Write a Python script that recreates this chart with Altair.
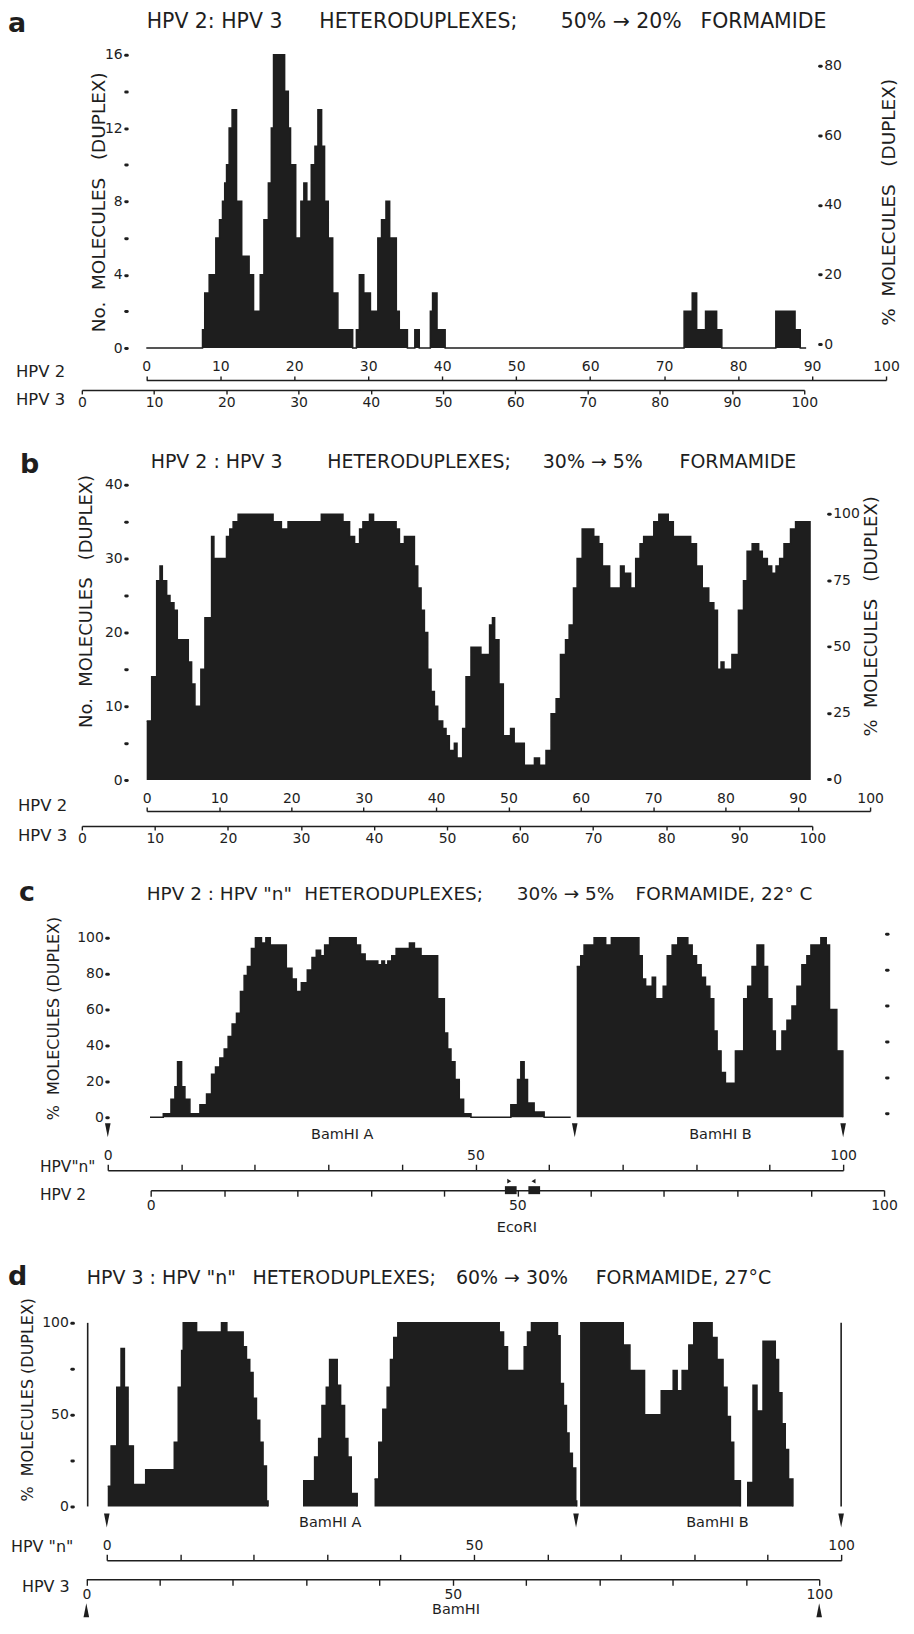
import altair as alt
import pandas as pd

FONT = "DejaVu Sans"
INK = "#1e1e1e"
W = 898
MARGIN = 8

# ---------------- data ----------------
hpv_ticks = list(range(0, 101, 10))

# panel a : No. molecules (duplex) vs HPV 2 map position
a_x = [0, 7.6, 7.9, 8.5, 9.4, 9.9, 10.3, 10.6, 10.85, 11.2, 11.6, 12.2, 12.9, 13.9, 14.5,
       15.4, 15.9, 16.5, 16.9, 17.2, 18.7, 19.2, 19.5, 20.2, 20.9, 21.3, 21.7, 22.3, 22.8,
       23.2, 23.7, 24.1, 24.6, 25.2, 25.9, 27.9, 28.4, 28.8, 29.4, 30.3, 31.3, 31.8, 32.4,
       32.9, 33.8, 34.2, 35.3, 36.3, 36.9, 38.4, 38.7, 39.3, 40.4, 72.7, 73.8, 74.4, 75.6,
       77.1, 77.8, 85.1, 87.7, 88.4, 89.2]
a_y = [0, 1, 3, 4, 6, 7, 8, 9, 10, 12, 13, 8, 5, 4, 2,
       4, 7, 9, 12, 16, 14, 12, 10, 6, 8, 9, 8, 10, 11,
       13, 11, 8, 6, 3, 1, 0, 1, 4, 3, 2, 6, 7, 8,
       6, 2, 1, 0, 1, 0, 2, 3, 1, 0, 2, 3, 1, 2,
       1, 0, 2, 1, 0, 0]

# panel b : No. molecules (duplex) vs HPV 2 map position
b_x = [0, 0.69, 1.38, 1.84, 2.16, 2.76, 3.22, 3.77, 4.23, 5.75,
       6.21, 6.67, 7.49, 8.05, 8.97, 9.29, 11.03, 11.49, 11.95, 12.64,
       17.47, 18.62, 19.54, 24.14, 27.13, 28.05, 28.74, 29.43, 29.89, 30.80,
       31.36, 34.48, 34.94, 35.63, 37.01, 37.47, 37.93, 38.39, 38.85, 39.31,
       39.77, 40.23, 40.92, 41.38, 41.84, 42.53, 42.90, 43.68, 44.14, 44.83,
       46.2, 47.4, 47.8, 48.1, 48.7, 49.3, 50.3, 50.8, 52.2, 53.6,
       54.3, 55.2, 55.9, 56.6, 57.2, 57.9, 58.4, 59.0, 59.5, 60.2,
       61.8, 62.5, 63.0, 64.0, 65.5, 66.0, 66.9, 67.6, 68.2, 68.7,
       70.1, 70.8, 72.1, 72.8, 75.2, 76.0, 76.8, 77.7, 78.4, 78.9,
       79.4, 79.8, 80.9, 81.8, 82.5, 83.0, 83.7, 84.6, 85.1, 85.8,
       86.4, 87.0, 87.5, 88.1, 89.0, 89.7, 91.7]
b_y = [8, 14, 27, 29, 27, 25, 24, 23, 19, 16,
       13, 10, 15, 22, 33, 30, 33, 34, 35, 36,
       35, 34, 35, 36, 35, 33, 32, 34, 35, 36,
       35, 34, 32, 33, 29, 26, 23, 20, 15, 12,
       10, 8, 7, 6, 4, 5, 3, 7, 14, 18,
       17, 21, 22, 19, 13, 6, 7, 5, 2, 3,
       2, 4, 9, 11, 17, 19, 21, 26, 30, 34,
       33, 32, 29, 26, 29, 28, 26, 30, 32, 33,
       35, 36, 35, 33, 32, 29, 26, 24, 23, 15,
       16, 15, 17, 23, 27, 31, 32, 31, 30, 29,
       28, 29, 30, 32, 34, 35, 0]

# panel c : % molecules (duplex) vs HPV "n" map position
c1_x = [5.74, 7.55, 8.59, 9.13, 9.49, 10.04, 10.49, 11.17, 12.53, 13.43,
        14.11, 14.65, 15.24, 15.83, 16.37, 16.91, 17.50, 18.04, 18.54, 18.99,
        19.53, 20.08, 20.9, 21.5, 22.1, 24.28, 25.05, 25.64, 26.32, 27.13,
        27.77, 28.35, 28.94, 29.49, 30.16, 33.78, 34.37, 35.00, 36.72, 37.27,
        37.63, 38.08, 38.62, 39.21, 41.02, 41.70, 42.60, 44.86, 45.77, 46.22,
        46.67, 47.22, 47.80, 48.39, 49.39, 54.81, 55.72, 56.17, 56.62, 57.08,
        57.98, 59.34, 62.95]
c1_y = [0, 2, 10, 17, 31, 17, 10, 2, 7, 13,
        24, 28, 33, 38, 45, 52, 58, 70, 79, 84,
        94, 100, 97, 100, 96, 83, 77, 70, 75, 82,
        89, 93, 90, 96, 100, 96, 91, 87, 85, 87,
        85, 87, 90, 94, 97, 94, 90, 66, 47, 38,
        31, 21, 10, 2, 0, 7, 21, 31, 21, 8,
        3, 0, 0]
c2_x = [63.77, 64.32, 64.77, 66.13, 67.71, 68.48, 72.23, 72.68, 73.14, 74.04,
        74.49, 75.53, 76.08, 76.75, 77.52, 78.88, 79.47, 80.06, 80.69, 81.28,
        81.87, 82.41, 82.86, 83.40, 83.99, 85.35, 86.48, 87.02, 87.61, 88.29,
        89.19, 89.73, 90.32, 90.78, 91.68, 92.36, 93.04, 93.72, 94.39, 95.07,
        95.62, 96.97, 97.70, 98.15, 99.14, 99.96]
c2_y = [84, 90, 96, 100, 96, 100, 90, 77, 73, 78,
        66, 73, 90, 96, 100, 96, 90, 85, 78, 73,
        66, 48, 37, 25, 19, 37, 66, 73, 84, 96,
        84, 66, 48, 37, 48, 54, 62, 73, 85, 90,
        96, 100, 96, 60, 37, 0]

# panel d : % molecules (duplex) vs HPV "n" map position
d1_x = [0.13, 0.59, 1.36, 1.94, 2.4, 2.9, 3.62, 5.30, 9.19, 9.73, 10.19, 10.41, 12.23,
        15.62, 16.35, 18.57, 19.02, 19.47, 19.92, 20.38, 20.83, 21.28, 21.74, 21.96]
d1_y = [11, 33, 65, 86, 65, 33, 12, 20, 35, 65, 85, 100, 95,
        100, 95, 87, 80, 73, 59, 47, 35, 22, 3, 0]
d2_x = [26.72, 28.30, 28.85, 29.30, 29.89, 30.34, 31.38, 31.84, 32.38, 32.83, 33.29, 34.10]
d2_y = [14, 27, 37, 55, 65, 80, 66, 55, 37, 27, 7, 0]
d3_x = [36.46, 37.04, 37.59, 38.18, 38.63, 39.08, 39.63, 53.44, 54.03, 54.57, 56.84,
        57.29, 57.83, 61.37, 61.73, 62.18, 62.59, 62.95, 63.40, 63.86, 63.99]
d3_y = [15, 35, 53, 65, 80, 92, 100, 95, 87, 74, 87,
        95, 100, 93, 67, 55, 40, 29, 21, 3, 0]
d4_x = [64.45, 70.33, 71.24, 73.23, 75.50, 77.13, 77.67, 78.35, 79.26, 79.93, 82.43,
        83.10, 83.92, 84.46, 84.92, 85.37, 86.28]
d4_y = [100, 88, 74, 50, 63, 74, 63, 74, 88, 100, 92,
        80, 65, 49, 35, 14, 0]
d5_x = [87.18, 88.00, 88.54, 89.36, 91.03, 91.48, 91.94, 92.39, 92.84, 93.43]
d5_y = [13, 66, 52, 90, 80, 62, 45, 31, 15, 0]

# restriction sites / markers (map units)
bamhi_c = [0, 63.5, 100]          # HPV "n" units
bamhi_d = [0, 63.9, 100]          # HPV "n" units
bamhi_d_hpv3 = [0, 100]           # HPV 3 units
ecori_lo = [48.3, 51.5]           # HPV 2 units
ecori_hi = [49.9, 53.1]
ecori_right = [48.9]
ecori_left = [52.2]
d_frame = [-2.6, 100]             # HPV "n" units, vertical frame lines

DOWN = "M-0.4,-1L0.4,-1L0,1Z"
UP = "M-0.4,1L0.4,1L0,-1Z"


def steps(*segs):
    rows = []
    for k, (xs, ys) in enumerate(segs):
        assert len(xs) == len(ys), (len(xs), len(ys))
        for x, v in zip(xs, ys):
            rows.append({"x": x, "v": v, "seg": k})
    return pd.DataFrame(rows)


def x_axis(orient, offset, every, tick):
    return alt.Axis(
        orient=orient, offset=offset, values=hpv_ticks,
        labelExpr=f"datum.value % {every} == 0 ? datum.label : ''",
        domain=True, domainColor=INK, domainWidth=1.5,
        ticks=True, tickColor=INK, tickWidth=1.4, tickSize=tick,
        labelFont=FONT, labelFontSize=14, labelColor=INK, labelPadding=2,
        labelFlush=False, labelOverlap=False, grid=False, title=None)


def y_axis(orient, offset, values, every, labels=True):
    kw = dict(orient=orient, offset=offset, values=values, domain=False, grid=False,
              ticks=True, tickColor=INK, tickWidth=3, tickSize=1.5, tickCap="round",
              labels=labels, labelFont=FONT, labelFontSize=14, labelColor=INK,
              labelPadding=3, labelFlush=False, labelOverlap=False, title=None)
    if labels:
        kw["labelExpr"] = f"datum.value % {every} == 0 ? datum.label : ''"
    return alt.Axis(**kw)


def txt(s, x, y, top, size, align="left", weight="normal", angle=0, baseline="middle"):
    kw = dict(align=align, baseline=baseline, fontSize=size, font=FONT,
              fontWeight=weight, color=INK)
    if angle:
        kw["angle"] = angle
    return alt.Chart(pd.DataFrame({"s": [s]})).mark_text(**kw).encode(
        text="s:N", x=alt.value(x - MARGIN), y=alt.value(y - top))


def build(P):
    top, H = P["top"], P["height"]
    X = lambda px: px - MARGIN
    Y = lambda py: py - top
    layers = []

    xs = alt.Scale(domain=[0, 100], range=[X(P["x0"]), X(P["x100"])])
    ys = alt.Scale(domain=[0, P["ymax"]], range=[Y(P["y0"]), Y(P["ytop"])])
    m = P["main"]
    moff = -Y(m["y"]) if m["orient"] == "top" else -(H - Y(m["y"]))
    lf = P["left"]
    df = steps(*P["segs"])
    layers.append(alt.Chart(df).mark_area(interpolate="step-after", color=INK).encode(
        x=alt.X("x:Q", scale=xs, axis=x_axis(m["orient"], moff, m["every"], m["tick"])),
        y=alt.Y("v:Q", scale=ys, axis=y_axis("left", -X(lf["x"]), lf["values"], lf["every"])),
        detail="seg:N"))
    layers.append(alt.Chart(df).mark_line(interpolate="step-after", color=INK, strokeWidth=1.5).encode(
        x=alt.X("x:Q", scale=xs, axis=None),
        y=alt.Y("v:Q", scale=ys, axis=None),
        detail="seg:N"))

    s = P["sec"]
    sxs = alt.Scale(domain=[0, 100], range=[X(s["x0"]), X(s["x100"])])
    soff = -Y(s["y"]) if s["orient"] == "top" else -(H - Y(s["y"]))
    layers.append(alt.Chart(pd.DataFrame({"t": hpv_ticks})).mark_point(opacity=0).encode(
        x=alt.X("t:Q", scale=sxs, axis=x_axis(s["orient"], soff, s["every"], s["tick"])),
        y=alt.value(H / 2)))

    r = P.get("right")
    if r:
        rs = alt.Scale(domain=[0, r["domain"]], range=[Y(r["y0"]), Y(r["ytop"])])
        layers.append(alt.Chart(pd.DataFrame({"p": r["values"]})).mark_point(opacity=0).encode(
            y=alt.Y("p:Q", scale=rs,
                    axis=y_axis("right", -(W - X(r["x"])), r["values"], r["every"], r["labels"])),
            x=alt.value(W / 2)))

    for kind, vals, scale_key, ypx, path, size in P.get("arrows", []):
        sc = xs if scale_key == "main" else sxs
        layers.append(alt.Chart(pd.DataFrame({"p": vals})).mark_point(
            shape=path, filled=True, size=size, color=INK, opacity=1).encode(
            x=alt.X("p:Q", scale=sc, axis=None), y=alt.value(Y(ypx))))

    if P.get("ecori"):
        layers.append(alt.Chart(pd.DataFrame({"lo": ecori_lo, "hi": ecori_hi})).mark_rect(color=INK).encode(
            x=alt.X("lo:Q", scale=sxs, axis=None), x2="hi:Q",
            y=alt.value(Y(1186)), y2=alt.value(Y(1194))))

    if P.get("frame"):
        layers.append(alt.Chart(pd.DataFrame({"fx": d_frame, "lo": [0, 0], "hi": [100, 100]}))
                      .mark_rule(color=INK, strokeWidth=1.6).encode(
            x=alt.X("fx:Q", scale=xs, axis=None),
            y=alt.Y("lo:Q", scale=ys, axis=None), y2="hi:Q"))

    for t in P["texts"]:
        s_, x_, y_, size_ = t[:4]
        opts = t[4] if len(t) > 4 else {}
        layers.append(txt(s_, x_, y_, top, size_, **opts))

    return alt.layer(*layers).resolve_scale(x="independent", y="independent").properties(
        width=W, height=H)


NB = "\u00a0"
C = {"align": "center"}
V = {"align": "center", "angle": 270}
BOLD = {"weight": "bold", "baseline": "alphabetic"}

PA = dict(
    top=8, height=412, segs=[(a_x, a_y)], ymax=16,
    x0=144.6, x100=886, y0=346, ytop=52,
    left=dict(x=125, values=list(range(0, 17, 2)), every=4),
    right=dict(x=819, domain=80, y0=342, ytop=63, values=[0, 20, 40, 60, 80], every=20, labels=True),
    main=dict(orient="top", y=378, every=10, tick=4),
    sec=dict(x0=80, x100=804, orient="bottom", y=388, every=10, tick=4),
    texts=[
        ("a", 6, 29, 27, BOLD),
        ("HPV 2: HPV 3", 145, 19, 20.5),
        ("HETERODUPLEXES;", 318, 19, 20.5),
        ("50% → 20%", 560, 19, 20.5),
        ("FORMAMIDE", 700, 19, 20.5),
        (f"No.{NB}{NB}MOLECULES{NB}{NB}{NB}(DUPLEX)", 97, 200, 18.5, V),
        (f"%{NB}{NB}MOLECULES{NB}{NB}{NB}(DUPLEX)", 889, 200, 18.5, V),
        ("HPV 2", 14, 370, 16.5),
        ("HPV 3", 14, 398, 16.5),
    ],
)

PB = dict(
    top=420, height=430, segs=[(b_x, b_y)], ymax=40,
    x0=145, x100=870, y0=779, ytop=483,
    left=dict(x=125, values=list(range(0, 41, 5)), every=10),
    right=dict(x=828, domain=100, y0=778, ytop=512, values=[0, 25, 50, 75, 100], every=25, labels=True),
    main=dict(orient="top", y=810, every=10, tick=4),
    sec=dict(x0=80, x100=812, orient="bottom", y=825, every=10, tick=4),
    texts=[
        ("b", 18, 471, 27, BOLD),
        ("HPV 2 : HPV 3", 149, 460, 19),
        ("HETERODUPLEXES;", 326, 460, 19),
        ("30% → 5%", 542, 460, 19),
        ("FORMAMIDE", 679, 460, 19),
        (f"No.{NB}{NB}MOLECULES{NB}{NB}{NB}(DUPLEX)", 85, 600, 18, V),
        (f"%{NB}{NB}MOLECULES{NB}{NB}{NB}(DUPLEX)", 872, 615, 18, V),
        ("HPV 2", 16, 805, 16.5),
        ("HPV 3", 16, 835, 16.5),
    ],
)

PC = dict(
    top=850, height=400, segs=[(c1_x, c1_y), (c2_x, c2_y)], ymax=100,
    x0=106, x100=843, y0=1117, ytop=937,
    left=dict(x=106, values=list(range(0, 101, 20)), every=20),
    right=dict(x=886, domain=100, y0=1113, ytop=933, values=list(range(0, 101, 20)), every=20, labels=False),
    main=dict(orient="top", y=1170, every=50, tick=6),
    sec=dict(x0=149, x100=884, orient="bottom", y=1190, every=50, tick=6),
    arrows=[("bam", bamhi_c, "main", 1130, DOWN, 196),
            ("eco_r", ecori_right, "sec", 1181, "triangle-right", 22),
            ("eco_l", ecori_left, "sec", 1181, "triangle-left", 22)],
    ecori=True,
    texts=[
        ("c", 17, 900, 27, BOLD),
        ('HPV 2 : HPV "n"', 145, 893, 18.5),
        ("HETERODUPLEXES;", 303, 893, 18.5),
        ("30% → 5%", 516, 893, 18.5),
        ("FORMAMIDE, 22° C", 635, 893, 18.5),
        (f"%{NB}{NB}MOLECULES (DUPLEX)", 52, 1018, 16, V),
        ("BamHI A", 341, 1135, 14.5, C),
        ("BamHI B", 720, 1135, 14.5, C),
        ('HPV"n"', 38, 1167, 15.5),
        ("HPV 2", 38, 1195, 15.5),
        ("EcoRI", 516, 1228, 14.5, C),
    ],
)

PD = dict(
    top=1250, height=370, segs=[(d1_x, d1_y), (d2_x, d2_y), (d3_x, d3_y), (d4_x, d4_y), (d5_x, d5_y)],
    ymax=100, x0=105, x100=841, y0=1507, ytop=1323,
    left=dict(x=71, values=[0, 25, 50, 75, 100], every=50),
    main=dict(orient="top", y=1561, every=50, tick=6),
    sec=dict(x0=84.5, x100=819, orient="bottom", y=1580, every=50, tick=6),
    arrows=[("bam", bamhi_d, "main", 1521, DOWN, 196),
            ("bam3", bamhi_d_hpv3, "sec", 1611, UP, 196)],
    frame=True,
    texts=[
        ("d", 6, 1285, 27, BOLD),
        ('HPV 3 : HPV "n"', 85, 1278, 19),
        ("HETERODUPLEXES;", 251, 1278, 19),
        ("60% → 30%", 455, 1278, 19),
        ("FORMAMIDE,  27°C", 595, 1278, 19),
        (f"%{NB}{NB}MOLECULES (DUPLEX)", 26, 1400, 16, V),
        ("BamHI A", 329, 1524, 14.5, C),
        ("BamHI B", 717, 1524, 14.5, C),
        ('HPV "n"', 9, 1548, 16),
        ("HPV 3", 20, 1588, 16),
        ("BamHI", 455, 1611, 14.5, C),
    ],
)

chart = alt.vconcat(build(PA), build(PB), build(PC), build(PD), spacing=0).properties(
    padding=0).configure_view(stroke=None)

chart.save("out.html", embed_options={"renderer": "svg", "actions": False})
